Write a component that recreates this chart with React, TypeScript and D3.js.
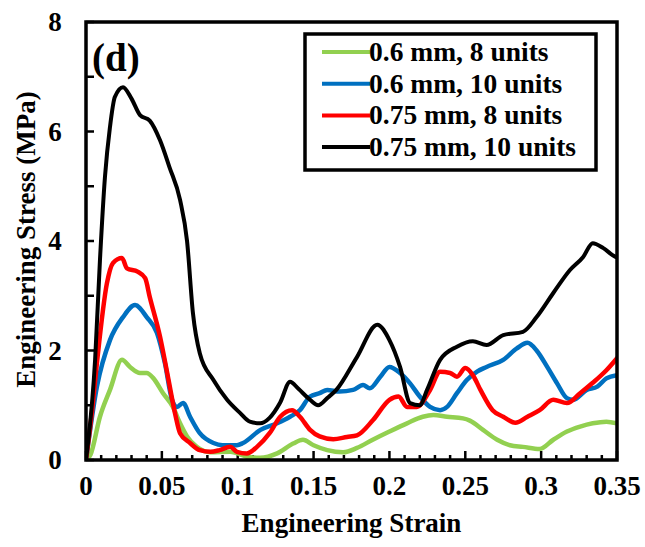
import React from "react";
import * as d3 from "d3";

const xTicks = [0, 0.05, 0.1, 0.15, 0.2, 0.25, 0.3, 0.35];
const xTickLabels = ["0", "0.05", "0.1", "0.15", "0.2", "0.25", "0.3", "0.35"];
const yTicks = [0, 2, 4, 6, 8];
const seriesNames = ["0.6 mm, 8 units", "0.6 mm, 10 units", "0.75 mm, 8 units", "0.75 mm, 10 units"];
const seriesColors = ["#92D050", "#0070C0", "#FF0000", "#000000"];

const green06x8: [number, number][] = [
  [0, 0], [0.003, 0.1], [0.0092, 0.79], [0.0158, 1.28], [0.0237, 1.83], [0.029, 1.7], [0.0356, 1.59],
  [0.04, 1.59], [0.0442, 1.5], [0.0508, 1.22], [0.0573, 0.97], [0.062, 0.67], [0.0666, 0.43],
  [0.073, 0.24], [0.082, 0.14], [0.095, 0.15], [0.108, 0.05], [0.1147, 0.04], [0.126, 0.12],
  [0.1365, 0.3], [0.143, 0.37], [0.15, 0.27], [0.159, 0.18], [0.1695, 0.14], [0.1786, 0.22],
  [0.189, 0.37], [0.2, 0.52], [0.2116, 0.67], [0.222, 0.79], [0.229, 0.82], [0.238, 0.79],
  [0.2485, 0.76], [0.253, 0.72], [0.2617, 0.55], [0.271, 0.37], [0.2795, 0.27], [0.288, 0.24],
  [0.299, 0.2], [0.308, 0.37], [0.317, 0.52], [0.3257, 0.61], [0.334, 0.67], [0.343, 0.7], [0.35, 0.67],
];

const blue06x10: [number, number][] = [
  [0, 0], [0.0072, 1.34], [0.0158, 2.19], [0.0244, 2.61], [0.0323, 2.83], [0.04, 2.61], [0.0468, 2.32],
  [0.052, 1.77], [0.0567, 1.1], [0.06, 0.97], [0.064, 1.04], [0.0686, 0.79], [0.075, 0.49], [0.084, 0.31],
  [0.09, 0.27], [0.0995, 0.27], [0.1035, 0.31], [0.115, 0.55], [0.126, 0.67], [0.1345, 0.79],
  [0.141, 0.91], [0.1477, 1.16], [0.154, 1.22], [0.159, 1.28], [0.167, 1.25], [0.176, 1.28],
  [0.1826, 1.37], [0.187, 1.31], [0.194, 1.52], [0.2, 1.7], [0.207, 1.59], [0.2136, 1.4], [0.22, 1.16],
  [0.2268, 0.97], [0.2334, 0.91], [0.238, 0.97], [0.2445, 1.22], [0.251, 1.46], [0.258, 1.62],
  [0.264, 1.7], [0.275, 1.83], [0.284, 2.04], [0.291, 2.14], [0.297, 2.0], [0.304, 1.7], [0.3105, 1.4],
  [0.317, 1.13], [0.321, 1.1], [0.33, 1.28], [0.337, 1.34], [0.343, 1.49], [0.35, 1.55],
];

const red075x8: [number, number][] = [
  [0, 0], [0.004, 0.9], [0.0072, 1.77], [0.0138, 3.23], [0.0178, 3.6], [0.0237, 3.69], [0.027, 3.5],
  [0.034, 3.44], [0.039, 3.32], [0.042, 2.98], [0.0488, 2.25], [0.054, 1.52], [0.0587, 0.85],
  [0.062, 0.49], [0.0686, 0.31], [0.075, 0.18], [0.082, 0.15], [0.088, 0.18], [0.095, 0.24],
  [0.0995, 0.15], [0.106, 0.12], [0.1127, 0.24], [0.121, 0.49], [0.128, 0.79], [0.1358, 0.91],
  [0.141, 0.79], [0.1477, 0.55], [0.154, 0.43], [0.163, 0.38], [0.172, 0.42], [0.1786, 0.45],
  [0.1892, 0.73], [0.2, 1.1], [0.206, 1.16], [0.2116, 0.97], [0.218, 0.97], [0.2268, 1.28],
  [0.2334, 1.61], [0.24, 1.59], [0.2445, 1.52], [0.25, 1.68], [0.255, 1.55], [0.26, 1.28],
  [0.268, 0.91], [0.275, 0.79], [0.283, 0.68], [0.291, 0.79], [0.299, 0.91], [0.308, 1.1],
  [0.317, 1.04], [0.3257, 1.22], [0.334, 1.41], [0.343, 1.64], [0.35, 1.86],
];

const black075x10: [number, number][] = [
  [0, 0], [0.006, 1.83], [0.0092, 3.65], [0.0125, 5.17], [0.0158, 6.08], [0.019, 6.63], [0.0244, 6.81],
  [0.03, 6.6], [0.0356, 6.3], [0.042, 6.2], [0.0488, 5.84], [0.055, 5.35], [0.062, 4.75], [0.0666, 4.0],
  [0.0705, 2.68], [0.075, 1.95], [0.084, 1.46], [0.093, 1.1], [0.1015, 0.86], [0.108, 0.7],
  [0.1147, 0.67], [0.121, 0.77], [0.128, 1.05], [0.1345, 1.43], [0.14, 1.3], [0.1477, 1.1],
  [0.153, 1.0], [0.159, 1.13], [0.165, 1.28], [0.1786, 1.88], [0.192, 2.47], [0.2, 2.19],
  [0.207, 1.7], [0.2136, 1.04], [0.22, 1.0], [0.2248, 1.28], [0.2334, 1.83], [0.2445, 2.07],
  [0.255, 2.17], [0.264, 2.1], [0.275, 2.28], [0.288, 2.34], [0.297, 2.61], [0.308, 3.05],
  [0.319, 3.47], [0.3277, 3.71], [0.334, 3.96], [0.341, 3.87], [0.349, 3.71], [0.35, 3.7],
];

const allSeries = [green06x8, blue06x10, red075x8, black075x10];

export default function App() {
  const W = 645, H = 547;
  const left = 86, right = 617, top = 22, bottom = 460;
  const x = d3.scaleLinear().domain([0, 0.35]).range([left, right]);
  const y = d3.scaleLinear().domain([0, 8]).range([bottom, top]);
  const line = d3.line<[number, number]>().x(d => x(d[0])).y(d => y(d[1])).curve(d3.curveMonotoneX);
  const font = "'Liberation Serif', 'Times New Roman', serif";
  const xMinor = d3.range(0, 36).map(i => i / 100);
  const yMinor = d3.range(0, 9);

  return (
    <svg width={W} height={H} style={{ position: "absolute", left: 0, top: 0, background: "#fff" }} fontFamily={font} fontWeight="bold">
      <defs>
        <clipPath id="plotclip">
          <rect x={left} y={top} width={right - left} height={bottom - top} />
        </clipPath>
      </defs>
      <rect x={0} y={0} width={W} height={H} fill="#fff" />
      {xMinor.map((t, i) => (
        <line key={"xm" + i} x1={x(t)} x2={x(t)} y1={bottom} y2={bottom - (i % 5 === 0 ? 9 : 5)} stroke="#000" strokeWidth={2.5} />
      ))}
      {yMinor.map((t, i) => (
        <line key={"ym" + i} x1={left} x2={left + 8} y1={y(t)} y2={y(t)} stroke="#000" strokeWidth={2.5} />
      ))}
      <g clipPath="url(#plotclip)">
        {allSeries.map((s, i) => (
          <path key={i} d={line(s) || ""} fill="none" stroke={seriesColors[i]} strokeWidth={i === 3 ? 4 : 4.5} strokeLinejoin="round" strokeLinecap="round" />
        ))}
      </g>
      <rect x={left} y={top} width={right - left} height={bottom - top} fill="none" stroke="#000" strokeWidth={3.5} />
      {xTicks.map((t, i) => (
        <text key={"xl" + i} x={x(t)} y={495} textAnchor="middle" fontSize={27}>{xTickLabels[i]}</text>
      ))}
      {yTicks.map((t, i) => (
        <text key={"yl" + i} x={55} y={y(t) + 9} textAnchor="middle" fontSize={27}>{String(t)}</text>
      ))}
      <text x={(left + right) / 2} y={532} textAnchor="middle" fontSize={27}>Engineering Strain</text>
      <text transform={`translate(35, ${(91 + 388) / 2}) rotate(-90)`} textAnchor="middle" fontSize={27}>Engineering Stress (MPa)</text>
      <text x={92} y={71} fontSize={39}>(d)</text>
      <rect x={305} y={34} width={291} height={136} fill="#fff" stroke="#000" strokeWidth={3.5} />
      {seriesNames.map((n, i) => {
        const cy = 52 + i * 31.7;
        return (
          <g key={"lg" + i}>
            <line x1={322} x2={370} y1={cy} y2={cy} stroke={seriesColors[i]} strokeWidth={4} />
            <text x={369} y={cy + 9} fontSize={27.5}>{n}</text>
          </g>
        );
      })}
    </svg>
  );
}
